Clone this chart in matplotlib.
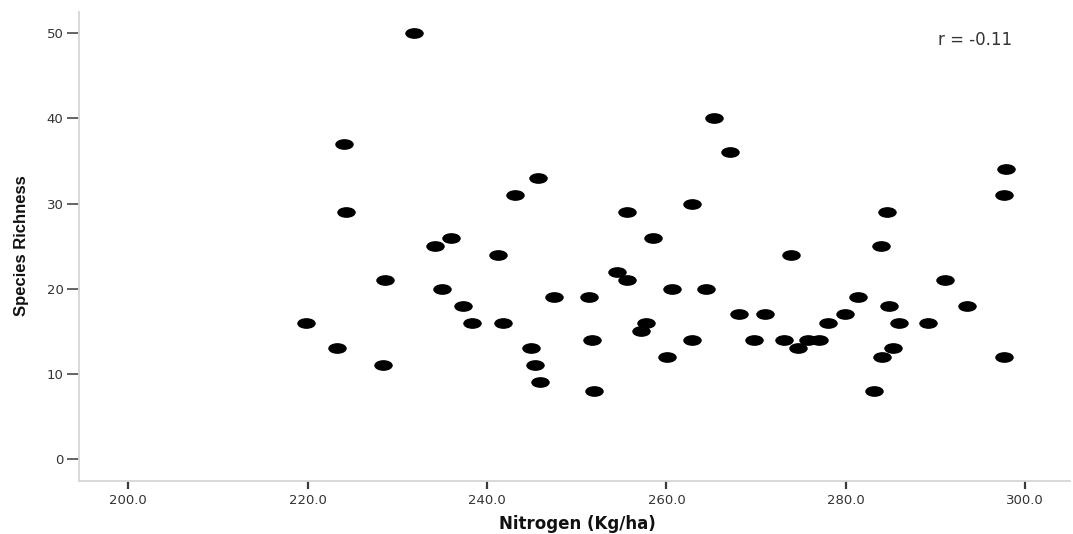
import numpy as np
import matplotlib
matplotlib.use("Agg")
import matplotlib.pyplot as plt
from matplotlib.path import Path
from matplotlib.transforms import Affine2D

# Nitrogen input (Kg/ha) and species richness per plot
nitrogen = [
    219.8, 223.3, 224.0, 224.3, 228.4, 228.6, 231.9, 234.2, 235.0, 236.0,
    237.3, 238.3, 241.2, 241.8, 243.1, 244.9, 245.4, 245.7, 245.9, 247.5,
    251.4, 251.7, 251.9, 254.5, 255.6, 255.6, 257.2, 257.7, 258.5, 260.1,
    260.6, 262.8, 262.8, 264.4, 265.3, 267.1, 268.1, 269.8, 271.0, 273.1,
    273.9, 274.7, 275.8, 277.0, 278.0, 279.9, 281.4, 283.2, 283.9, 284.0,
    284.6, 284.8, 285.3, 285.9, 289.2, 291.1, 293.5, 297.6, 297.9, 297.6,
]
richness = [
    16, 13, 37, 29, 11, 21, 50, 25, 20, 26,
    18, 16, 24, 16, 31, 13, 11, 33, 9, 19,
    19, 14, 8, 22, 21, 29, 15, 16, 26, 12,
    20, 30, 14, 20, 40, 36, 17, 14, 17, 14,
    24, 13, 14, 14, 16, 17, 19, 8, 25, 12,
    29, 18, 13, 16, 16, 21, 18, 31, 34, 12,
]
x_ticks = [200, 220, 240, 260, 280, 300]
y_ticks = [0, 10, 20, 30, 40, 50]
r_text = "r = -0.11"

W, H, DPI = 1073, 534, 100
fig = plt.figure(figsize=(W / DPI, H / DPI), dpi=DPI)
fig.patch.set_facecolor("white")

# axes frame in pixels
left, right, top, bottom = 79, 1070, 12, 481
ax = fig.add_axes([left / W, (H - bottom) / H, (right - left) / W, (bottom - top) / H])

# slightly flattened ellipse marker
ellipse = Affine2D().scale(1.0, 0.58).transform_path(Path.unit_circle())
ms_pt = 18.5 * 72 / DPI
ax.scatter(nitrogen, richness, marker=ellipse, s=ms_pt ** 2,
           c="black", linewidths=0, zorder=3)

ax.set_xlim(194.5, 305.0)
ax.set_ylim(-2.6, 52.5)

ax.set_xticks(x_ticks)
ax.set_xticklabels([f"{v:.1f}" for v in x_ticks])
ax.set_yticks(y_ticks)
ax.set_yticklabels([str(v) for v in y_ticks])

for side in ("top", "right"):
    ax.spines[side].set_visible(False)
for side in ("left", "bottom"):
    ax.spines[side].set_color("#d6d6d6")
    ax.spines[side].set_linewidth(1.3)

tick_col = "#3a3a3a"
ax.tick_params(axis="x", direction="out", length=5.5, width=1.6, color=tick_col,
               pad=3.5, labelsize=9.5, labelcolor="#333333")
ax.tick_params(axis="y", direction="out", length=8.6, width=1.1, color=tick_col,
               pad=2.5, labelsize=9.5, labelcolor="#333333")
for lbl in ax.get_xticklabels() + ax.get_yticklabels():
    lbl.set_family("DejaVu Sans")

ax.set_xlabel("Nitrogen (Kg/ha)", fontsize=12, fontweight="bold",
              family="DejaVu Sans", color="#111111")
ax.xaxis.set_label_coords((577 - left) / (right - left), (bottom - 524) / (bottom - top))
ax.xaxis.label.set_va("center")

ax.set_ylabel("Species Richness", fontsize=12, fontweight="bold",
              family=["Liberation Sans Narrow", "Liberation Sans", "DejaVu Sans"],
              color="#111111")
ax.yaxis.set_label_coords((22 - left) / (right - left), (bottom - 246) / (bottom - top))
ax.yaxis.label.set_va("center")

fig.text(975 / W, 1 - 40 / H, r_text, ha="center", va="center",
         fontsize=12, family="DejaVu Sans", color="#333333")

fig.savefig("out.png", dpi=DPI, facecolor="white")
